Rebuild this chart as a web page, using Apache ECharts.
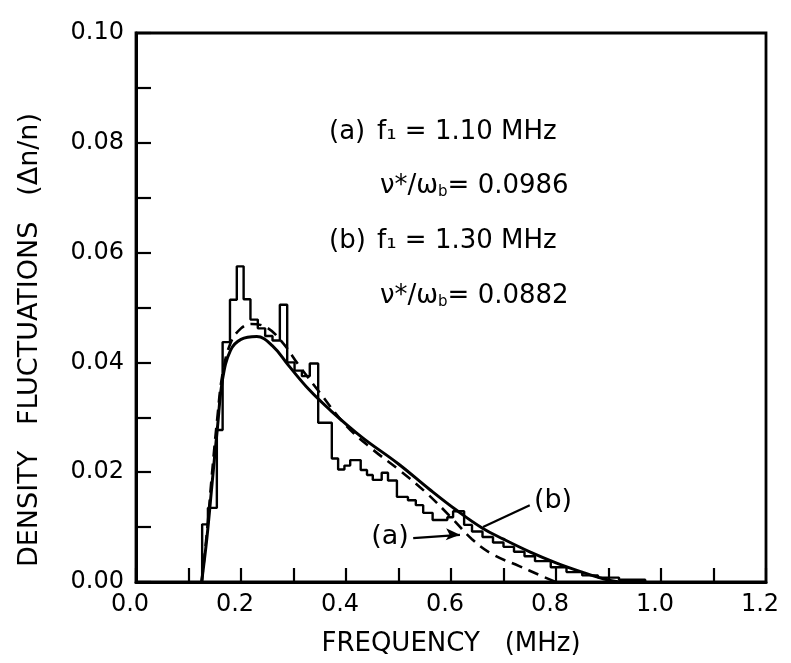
<!DOCTYPE html>
<html><head><meta charset="utf-8">
<script src="https://cdn.jsdelivr.net/npm/echarts@6/dist/echarts.min.js"></script>
<style>html,body{margin:0;padding:0;background:#fff}#c{width:791px;height:663px}</style>
</head><body><div id="c"></div>
<script>
// Curve (b): f1 = 1.30 MHz (solid)
const solidX = [0.125,0.135,0.145,0.155,0.165,0.18,0.20,0.23,0.26,0.29,0.33,0.37,0.43,0.50,0.56,0.61,0.66,0.70,0.75,0.80,0.85,0.89,0.92];
const solidY = [0,0.008,0.018,0.028,0.037,0.0422,0.0442,0.0447,0.0430,0.0395,0.0350,0.0313,0.0264,0.0215,0.0168,0.0131,0.0098,0.0078,0.0055,0.0035,0.0018,0.0006,0];
// Curve (a): f1 = 1.10 MHz (dashed)
const dashX = [0.125,0.135,0.145,0.155,0.165,0.18,0.20,0.22,0.25,0.28,0.31,0.35,0.40,0.45,0.50,0.55,0.60,0.64,0.68,0.73,0.77,0.80];
const dashY = [0,0.009,0.020,0.030,0.038,0.0435,0.0462,0.0470,0.0463,0.0435,0.0395,0.0345,0.0285,0.0242,0.0205,0.0165,0.0118,0.0078,0.0050,0.0029,0.0012,0];
// Measured spectrum histogram: bin edges and heights
const binEdges = [0.126,0.137,0.154,0.165,0.179,0.192,0.205,0.218,0.232,0.246,
                  0.260,0.274,0.288,0.302,0.316,0.331,0.347,0.373,0.385,0.397,
                  0.408,0.428,0.440,0.451,0.468,0.480,0.497,0.518,0.533,0.547,
                  0.565,0.593,0.604,0.625,0.640,0.660,0.680,0.700,0.720,0.740,
                  0.760,0.790,0.820,0.850,0.880,0.920,0.970];
const binHeights = [0.0105,0.0135,0.0277,0.0437,0.0514,0.0575,0.0515,0.0478,0.0462,
                    0.0448,0.0440,0.0505,0.0400,0.0385,0.0375,0.0398,0.0290,0.0225,0.0205,
                    0.0212,0.0222,0.0204,0.0195,0.0186,0.0199,0.0185,0.0155,0.0149,0.0140,
                    0.0126,0.0113,0.0118,0.0129,0.0104,0.0092,0.0082,0.0072,0.0064,0.0055,
                    0.0047,0.0038,0.0027,0.0018,0.0012,0.0008,0.0004];
const xLabels = ['0.0','0.2','0.4','0.6','0.8','1.0','1.2'];
const yLabels = ['0.00','0.02','0.04','0.06','0.08','0.10'];
const infoLines = ['(a)', 'f₁ = 1.10 MHz', 'ν*/ω{s|b}= 0.0986', '(b)', 'f₁ = 1.30 MHz', 'ν*/ω{s|b}= 0.0882'];
const xTitle = 'FREQUENCY   (MHz)';
const yTitle = 'DENSITY   FLUCTUATIONS   (Δn/n)';
const leaderB = [[0.750, 0.0140], [0.661, 0.0100]];
const arrowA = [[0.528, 0.0080], [0.617, 0.0086]];

const FONT = 'DejaVu Sans';
const histData = [[binEdges[0], 0]];
for (let i = 0; i < binHeights.length; i++) histData.push([binEdges[i], binHeights[i]]);
histData.push([binEdges[binEdges.length - 1], 0]);

const chart = echarts.init(document.getElementById('c'), null, {renderer: 'canvas'});
const fmtX = v => { const k = Math.round(v * 10); return k % 2 === 0 ? xLabels[k / 2] : ''; };
const fmtY = v => { const k = Math.round(v * 100); return k % 2 === 0 ? yLabels[k / 2] : ''; };

chart.setOption({
  animation: false,
  backgroundColor: '#fff',
  grid: {left: 136, right: 25, top: 33, bottom: 81, show: true, borderColor: '#000', borderWidth: 2.8},
  xAxis: {
    type: 'value', min: 0, max: 1.2, interval: 0.1,
    axisLine: {lineStyle: {color: '#000', width: 3}},
    axisTick: {inside: true, length: 14, lineStyle: {color: '#000', width: 2.2}},
    axisLabel: {formatter: fmtX, color: '#000', fontSize: 24, fontFamily: FONT, margin: 11, padding: [0, 12, 0, 0]},
    splitLine: {show: false},
    name: xTitle, nameLocation: 'middle', nameGap: 49,
    nameTextStyle: {color: '#000', fontSize: 26, fontFamily: FONT}
  },
  yAxis: {
    type: 'value', min: 0, max: 0.1, interval: 0.01,
    axisLine: {lineStyle: {color: '#000', width: 3}},
    axisTick: {inside: true, length: 15, lineStyle: {color: '#000', width: 2.2}},
    axisLabel: {formatter: fmtY, color: '#000', fontSize: 24, fontFamily: FONT, margin: 12},
    splitLine: {show: false}
  },
  series: [
    {type: 'line', name: 'histogram', data: histData, step: 'end', showSymbol: false,
     lineStyle: {color: '#000', width: 2.4}},
    {type: 'line', name: '(b)', data: solidX.map((x, i) => [x, solidY[i]]), smooth: 0.4, showSymbol: false,
     lineStyle: {color: '#000', width: 3}},
    {type: 'line', name: '(a)', data: dashX.map((x, i) => [x, dashY[i]]), smooth: 0.4, showSymbol: false,
     lineStyle: {color: '#000', width: 2.6, type: [11, 7]}},
    {type: 'line', name: 'leader-b', data: leaderB, showSymbol: false, silent: true,
     lineStyle: {color: '#000', width: 2.2}},
    {type: 'line', name: 'arrow-a', data: arrowA, showSymbol: false, silent: true,
     lineStyle: {color: '#000', width: 2.2},
     markPoint: {silent: true, symbol: 'arrow', symbolSize: [9, 14], symbolRotate: -92, label: {show: false},
       itemStyle: {color: '#000'}, data: [{coord: arrowA[1]}]}}
  ]
});

const textStyle = (t, x, y, size, extra) => Object.assign({type: 'text', x: x, y: y, style: Object.assign({
  text: t, fill: '#000', font: size + 'px "' + FONT + '"', align: 'left', verticalAlign: 'middle',
  rich: {s: {fontSize: 15, fontFamily: FONT, padding: [13, 0, 0, 0], fill: '#000'}}
}, extra || {})});
chart.setOption({
  graphic: [
    textStyle(infoLines[0], 329, 132, 26),
    textStyle(infoLines[1], 377, 132, 26),
    textStyle(infoLines[2], 380, 186, 26),
    textStyle(infoLines[3], 329, 241, 26),
    textStyle(infoLines[4], 377, 241, 26),
    textStyle(infoLines[5], 380, 296, 26),
    textStyle('(b)', 553, 501, 27, {align: 'center'}),
    textStyle('(a)', 390, 537, 27, {align: 'center'}),
    {type: 'text', x: 30, y: 340, rotation: Math.PI / 2,
     style: {text: yTitle, fill: '#000', font: '27px "' + FONT + '"', align: 'center', verticalAlign: 'middle'}}
  ]
});
</script></body></html>
